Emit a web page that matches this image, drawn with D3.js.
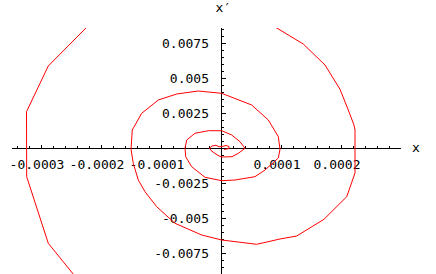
<!DOCTYPE html>
<html>
<head>
<meta charset="utf-8">
<script src="https://cdn.jsdelivr.net/npm/d3@7"></script>
<style>
  html, body { margin: 0; padding: 0; background: #fff; }
  svg { display: block; }
  text { font-family: "DejaVu Sans Mono", monospace; font-size: 13px; fill: #000; }
</style>
</head>
<body>
<script>
// Phase-plane trajectory: x (units of 1e-4) and x' (units of 1e-3)
const xUnit = 1e-4, yUnit = 1e-3;
const trajX = [0.042, 0.125, 0.125, 0.075, 0.008, -0.042, -0.092, -0.158, -0.2, -0.175, -0.108, -0.025, 0.008, 0.175, 0.28, 0.392,
  0.308, 0.17, 0.003, -0.22, -0.442, -0.58, -0.608, -0.597, -0.497, -0.275, 0.003, 0.225, 0.558, 0.725, 0.947, 0.975,
  0.947, 0.78, 0.503, 0.003, -0.387, -0.747, -1.053, -1.33, -1.487, -1.508, -1.47, -1.387, -1.275, -1.08, -0.775, -0.33,
  0.003, 0.587, 0.975, 1.253, 1.708, 2.087, 2.225, 2.225, 2.208, 2.113, 1.975, 1.725, 1.363, 0.475, -0.69, -1.847,
  -2.887, -3.25, -3.247, -2.887, -2.108];
const trajY = [-0.071, 0, 0.143, 0.214, 0.143, 0.121, 0.229, 0.179, 0.036, -0.143, -0.357, -0.571, -0.607, -0.586, -0.343, 0.014,
  0.486, 0.964, 1.271, 1.271, 1.086, 0.607, 0.014, -0.586, -1.3, -2.057, -2.3, -2.25, -2.014, -1.536, -0.679, -0.057,
  0.843, 2.036, 3.107, 3.943, 4.107, 3.893, 3.464, 2.514, 1.321, -0.057, -1.057, -2.25, -3.086, -4.157, -5.343, -6.179,
  -6.536, -6.843, -6.464, -6.25, -5.057, -3.443, -1.75, 1.321, 1.679, 2.75, 4.229, 5.964, 7.464, 9.76, 10.46, 10.39,
  5.893, 2.629, -2.014, -6.771, -10.89];

const xMajorTicks = [-0.0003, -0.0002, -0.0001, 0.0001, 0.0002];
const xTickLabels = ["-0.0003", "-0.0002", "-0.0001", "0.0001", "0.0002"];
const yMajorTicks = [0.0075, 0.005, 0.0025, -0.0025, -0.005, -0.0075];
const yTickLabels = ["0.0075", "0.005", "0.0025", "-0.0025", "-0.005", "-0.0075"];
const xMinorStep = 0.00002, yMinorStep = 0.0005;
const xAxisTitle = "x", yAxisTitle = "x\u2032";

const W = 436, H = 274;
const xScale = d3.scaleLinear().domain([-0.00035, 0.0003]).range([11.5, 401.5]);
const yScale = d3.scaleLinear().domain([-0.009, 0.0086]).range([274.5, 28.1]);

const svg = d3.select("body").append("svg").attr("width", W).attr("height", H);

svg.append("defs").append("clipPath").attr("id", "plotclip")
  .append("rect").attr("x", 11).attr("y", 28).attr("width", 391).attr("height", 250);

// minor tick values
const xMinor = d3.range(-17, 15).map(i => +(i * xMinorStep).toFixed(6)).filter(v => v !== 0 && !xMajorTicks.some(m => Math.abs(m - v) < 1e-9));
const yMinor = d3.range(-18, 18).map(i => +(i * yMinorStep).toFixed(5)).filter(v => v !== 0 && v <= 0.0086 && !yMajorTicks.some(m => Math.abs(m - v) < 1e-9));

const x0 = xScale(0), y0 = yScale(0);

// x axis
const gx = svg.append("g").attr("transform", `translate(0,${y0})`);
gx.append("g").call(d3.axisTop(xScale).tickValues(xMinor).tickSize(2.5).tickSizeOuter(0).tickFormat("").offset(0))
  .call(g => g.select(".domain").remove());
gx.append("g").call(d3.axisTop(xScale).tickValues(xMajorTicks).tickSize(4).tickSizeOuter(0).tickFormat("").offset(0))
  .call(g => g.select(".domain").remove());
gx.append("line").attr("x1", 11.7).attr("x2", 400.7).attr("y1", 0).attr("y2", 0)
  .attr("stroke", "#000").attr("shape-rendering", "crispEdges");
gx.selectAll("g line").attr("shape-rendering", "crispEdges");
gx.selectAll("text.lab").data(xMajorTicks).join("text").attr("class", "lab")
  .attr("x", d => xScale(d) - 4.5).attr("y", 20).attr("text-anchor", "middle")
  .text((d, i) => xTickLabels[i]);

// y axis
const gy = svg.append("g").attr("transform", `translate(${x0},0)`);
gy.append("g").call(d3.axisRight(yScale).tickValues(yMinor).tickSize(2.5).tickSizeOuter(0).tickFormat("").offset(0))
  .call(g => g.select(".domain").remove());
gy.append("g").call(d3.axisRight(yScale).tickValues(yMajorTicks).tickSize(4).tickSizeOuter(0).tickFormat("").offset(0))
  .call(g => g.select(".domain").remove());
gy.append("line").attr("x1", 0).attr("x2", 0).attr("y1", 28).attr("y2", 275)
  .attr("stroke", "#000").attr("shape-rendering", "crispEdges");
gy.selectAll("g line").attr("shape-rendering", "crispEdges");
gy.selectAll("text.lab").data(yMajorTicks).join("text").attr("class", "lab")
  .attr("x", -12.5).attr("y", d => yScale(d) + 4.8).attr("text-anchor", "end")
  .text((d, i) => yTickLabels[i]);

// axis titles
svg.append("text").attr("x", 412).attr("y", 152).text(xAxisTitle);
svg.append("text").attr("x", 215.5).attr("y", 12).text(yAxisTitle);

// trajectory
const pts = trajX.map((v, i) => [v * xUnit, trajY[i] * yUnit]);
svg.append("path").datum(pts)
  .attr("clip-path", "url(#plotclip)")
  .attr("fill", "none").attr("stroke", "#ff0000").attr("stroke-width", 1)
  .attr("d", d3.line().x(d => xScale(d[0])).y(d => yScale(d[1])));
</script>
</body>
</html>
